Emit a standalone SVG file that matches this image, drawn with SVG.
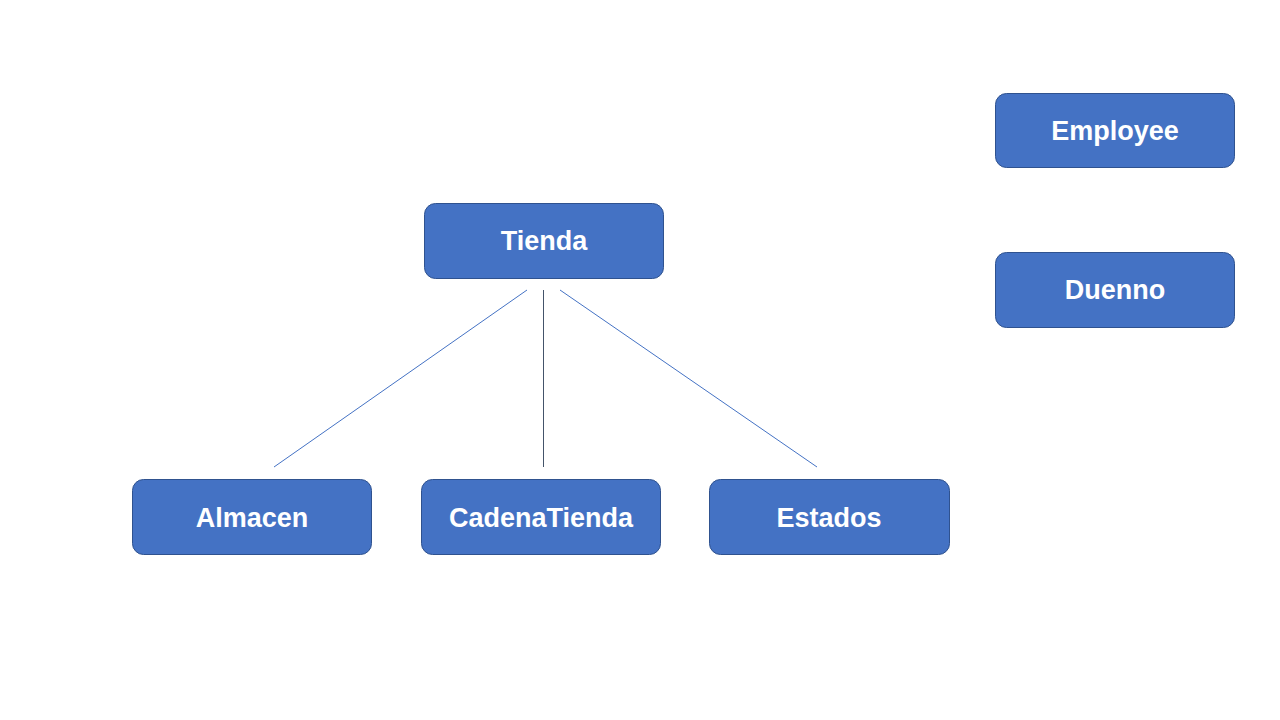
<svg xmlns="http://www.w3.org/2000/svg" width="1280" height="720" viewBox="0 0 1280 720">
<style>
.box{fill:#4472C4;stroke:#2F528F;stroke-width:1}
.lbl{font-family:"Liberation Sans",Arial,Helvetica,sans-serif;font-weight:700;font-size:27px;fill:#FFFFFF;text-anchor:middle}
.conn{stroke:#4472C4;stroke-width:1;fill:none}
</style>
<rect width="1280" height="720" fill="#FFFFFF"/>
<g id="connectors">
<line class="conn" x1="527" y1="290" x2="274" y2="467"/>
<line class="conn" x1="543.5" y1="290" x2="543.5" y2="467" style="stroke:#44546A"/>
<line class="conn" x1="560" y1="290" x2="817" y2="467"/>
</g>
<g id="tienda"><rect class="box" x="424.5" y="203.5" width="239" height="75" rx="11"/><text class="lbl" x="544" y="250">Tienda</text></g>
<g id="employee"><rect class="box" x="995.5" y="93.5" width="239" height="74" rx="11"/><text class="lbl" x="1115" y="140">Employee</text></g>
<g id="duenno"><rect class="box" x="995.5" y="252.5" width="239" height="75" rx="11"/><text class="lbl" x="1115" y="299">Duenno</text></g>
<g id="almacen"><rect class="box" x="132.5" y="479.5" width="239" height="75" rx="11"/><text class="lbl" x="252" y="527">Almacen</text></g>
<g id="cadenatienda"><rect class="box" x="421.5" y="479.5" width="239" height="75" rx="11"/><text class="lbl" x="541" y="527">CadenaTienda</text></g>
<g id="estados"><rect class="box" x="709.5" y="479.5" width="240" height="75" rx="11"/><text class="lbl" x="829" y="527">Estados</text></g>
</svg>
